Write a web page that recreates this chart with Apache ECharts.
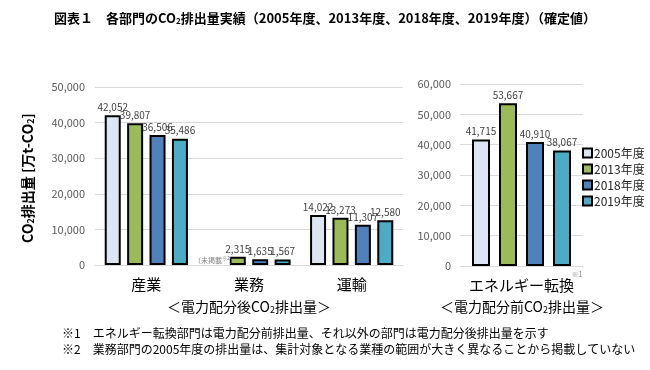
<!DOCTYPE html>
<html>
<head>
<meta charset="utf-8">
<script src="https://cdn.jsdelivr.net/npm/echarts@6/dist/echarts.min.js"></script>
<style>html,body{margin:0;padding:0;background:#fff;}#main{width:650px;height:370px;}</style>
</head>
<body>
<div id="main"></div>
<script>
// ---- data ----
var years = ['2005年度', '2013年度', '2018年度', '2019年度'];
var categoriesAfter = ['産業', '業務', '運輸'];
var categoriesBefore = ['エネルギー転換'];
// null = 未掲載
var after2005 = [42052, null, 14022];
var after2013 = [39807, 2315, 13273];
var after2018 = [36506, 1635, 11307];
var after2019 = [35486, 1567, 12580];
var before2005 = [41715];
var before2013 = [53667];
var before2018 = [40910];
var before2019 = [38067];
var yTicksAfter = [0, 10000, 20000, 30000, 40000, 50000];
var yTicksBefore = [0, 10000, 20000, 30000, 40000, 50000, 60000];

var colors = ['#dce6f2', '#9bbb59', '#4f81bd', '#4bacc6'];
var FONT = '"Noto Sans CJK JP", "Noto Sans", sans-serif';

function fmt(v) { return v.toLocaleString('en-US'); }

function mapAfter(arr) {
  return arr.map(function (v) {
    if (v === null) {
      return {
        value: 0,
        itemStyle: { borderWidth: 0, color: 'transparent' },
        label: { show: true, position: 'top', distance: 0, fontSize: 7, color: '#7f7f7f',
          formatter: '（未掲載{s|※2}）', rich: { s: { fontSize: 5, color: '#7f7f7f', padding: [0, 0, 4, 0] } } }
      };
    }
    return v;
  });
}

var labelCommon = {
  show: true, position: 'top', distance: 3, fontSize: 10, color: '#404040', fontFamily: FONT,
  formatter: function (p) { return fmt(p.value); }
};

function makeSeries(name, data, idx, axisIdx, bw, gap) {
  return {
    name: name, type: 'bar', xAxisIndex: axisIdx, yAxisIndex: axisIdx,
    data: data, barWidth: bw, barGap: gap,
    itemStyle: { color: colors[idx], borderColor: '#000', borderWidth: 2 },
    label: labelCommon,
    animation: false
  };
}

var afterArrs = [after2005, after2013, after2018, after2019];
var beforeArrs = [before2005, before2013, before2018, before2019];
var series = [];
years.forEach(function (y, i) {
  series.push(makeSeries(y, mapAfter(afterArrs[i]), i, 0, 16, '40%'));
});
years.forEach(function (y, i) {
  series.push(makeSeries(y, beforeArrs[i], i, 1, 18, '50%'));
});

function yAxisCfg(ticks, gridIndex, margin) {
  return {
    type: 'value', gridIndex: gridIndex,
    min: ticks[0], max: ticks[ticks.length - 1], interval: ticks[1] - ticks[0],
    axisLine: { show: false }, axisTick: { show: false },
    splitLine: { lineStyle: { color: '#d9d9d9', width: 1 } },
    axisLabel: { fontSize: 11, color: '#595959', fontFamily: FONT, margin: margin,
      formatter: function (v) { return fmt(v); } }
  };
}
function xAxisCfg(cats, gridIndex) {
  return {
    type: 'category', gridIndex: gridIndex, data: cats,
    axisLine: { lineStyle: { color: '#d9d9d9', width: 1 } },
    axisTick: { show: false },
    axisLabel: { fontSize: 15, color: '#000', fontFamily: FONT, margin: 12 }
  };
}

var subRich = {
  n: { fontSize: 14, color: '#000', fontFamily: FONT },
  s: { fontSize: 9, color: '#000', fontFamily: FONT, padding: [6, 0, 0, 0] }
};

var chart = echarts.init(document.getElementById('main'), null, { renderer: 'canvas' });
chart.setOption({
  backgroundColor: '#fff',
  animation: false,
  textStyle: { fontFamily: FONT },
  grid: [
    { left: 95, right: 247, top: 87, bottom: 105 },
    { left: 460, right: 67, top: 84, bottom: 104 }
  ],
  xAxis: [xAxisCfg(categoriesAfter, 0), xAxisCfg(categoriesBefore, 1)],
  yAxis: [yAxisCfg(yTicksAfter, 0, 10), yAxisCfg(yTicksBefore, 1, 9)],
  legend: {
    data: years, orient: 'vertical', left: 577, top: 142,
    itemWidth: 9, itemHeight: 9, itemGap: 4, icon: 'rect',
    textStyle: { fontSize: 12, color: '#262626', fontFamily: FONT, padding: [0, 0, 0, -3] }
  },
  series: series,
  graphic: [
    { type: 'text', left: 'center', top: 12,
      style: { text: '図表１　各部門のCO{s|2}排出量実績（2005年度、2013年度、2018年度、2019年度）（確定値）',
        font: 'bold 13px ' + FONT, fill: '#000',
        rich: { s: { fontSize: 8, fontWeight: 'bold', fontFamily: FONT, padding: [5, 0, 0, 0] } } } },
    { type: 'text', x: 28, y: 178, rotation: Math.PI / 2,
      style: { text: 'CO{s|2}排出量 [万t-CO{s|2}]', font: 'bold 14px ' + FONT, fill: '#000',
        align: 'center', verticalAlign: 'middle',
        rich: { s: { fontSize: 9, fontWeight: 'bold', fontFamily: FONT, padding: [6, 0, 0, 0] } } } },
    { type: 'text', x: 249, y: 307,
      style: { text: '＜電力配分後CO{s|2}排出量＞', font: '14px ' + FONT, fill: '#000',
        align: 'center', verticalAlign: 'middle', rich: subRich } },
    { type: 'text', x: 522, y: 307,
      style: { text: '＜電力配分前CO{s|2}排出量＞', font: '14px ' + FONT, fill: '#000',
        align: 'center', verticalAlign: 'middle', rich: subRich } },
    { type: 'text', x: 577, y: 274,
      style: { text: '※1', font: '7px ' + FONT, fill: '#7f7f7f', align: 'center', verticalAlign: 'middle' } },
    { type: 'text', x: 62, y: 333,
      style: { text: '※1　エネルギー転換部門は電力配分前排出量、それ以外の部門は電力配分後排出量を示す',
        font: '12px ' + FONT, fill: '#000', verticalAlign: 'middle' } },
    { type: 'text', x: 62, y: 349,
      style: { text: '※2　業務部門の2005年度の排出量は、集計対象となる業種の範囲が大きく異なることから掲載していない',
        font: '12px ' + FONT, fill: '#000', verticalAlign: 'middle' } }
  ]
});
</script>
</body>
</html>
